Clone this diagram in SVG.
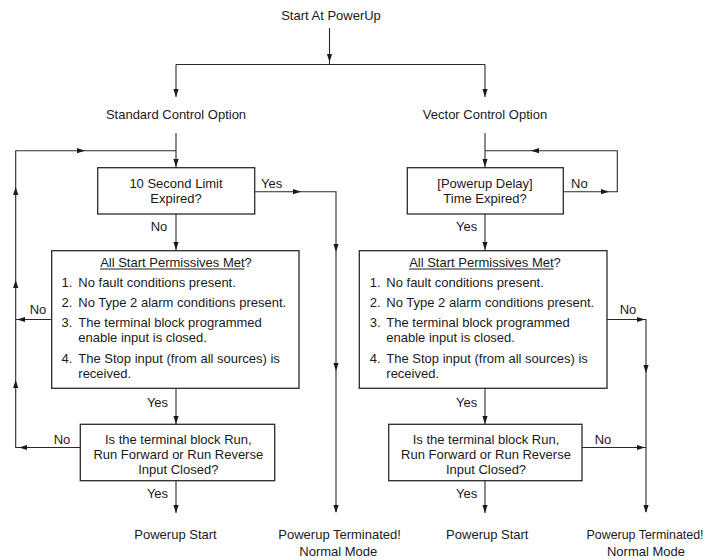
<svg xmlns="http://www.w3.org/2000/svg" xmlns:xlink="http://www.w3.org/1999/xlink" width="708" height="560" viewBox="0 0 708 560">
  <style>
    text { font-family: "Liberation Sans", Arial, Helvetica, sans-serif; font-size: 13px; fill: #1a1a1a; }
    .c { text-anchor: middle; }
    .box { fill: #ffffff; stroke: #2a2a2a; stroke-width: 1.3; }
    .wire { fill: none; stroke: #2a2a2a; stroke-width: 1.1; }
    .ul { stroke: #1a1a1a; stroke-width: 1; }
  </style>
  <defs>
    <!-- small filled arrowhead, tip at origin, pointing along +x -->
    <path id="ah" d="M0,0 L-8,-2.6 L-8,2.6 Z" fill="#1a1a1a"/>
  </defs>
  <rect width="708" height="560" fill="#ffffff"/>

  <!-- connectors -->
  <g id="connectors">
    <path class="wire" d="M329.5,28 V64.5 M176,64.5 H485 M176,64.5 V97 M485,64.5 V97"/>
    <use href="#ah" transform="translate(329.5,62) rotate(90)"/>
    <use href="#ah" transform="translate(176,97) rotate(90)"/>
    <use href="#ah" transform="translate(485,97) rotate(90)"/>

    <!-- standard branch -->
    <path class="wire" d="M176,133 V167.5"/>
    <use href="#ah" transform="translate(176,167) rotate(90)"/>
    <path class="wire" d="M80.5,447.5 H15.7 V150.7 H176"/>
    <path class="wire" d="M51.5,319.5 H15.7"/>
    <use href="#ah" transform="translate(85,150.7)"/>
    <use href="#ah" transform="translate(15.7,187) rotate(-90)"/>
    <use href="#ah" transform="translate(15.7,280) rotate(-90)"/>
    <use href="#ah" transform="translate(15.7,380) rotate(-90)"/>
    <use href="#ah" transform="translate(17,319.5) rotate(180)"/>
    <use href="#ah" transform="translate(19,447.5) rotate(180)"/>

    <path class="wire" d="M254.7,191.7 H336 V512"/>
    <use href="#ah" transform="translate(301,191.7)"/>
    <use href="#ah" transform="translate(336,252) rotate(90)"/>
    <use href="#ah" transform="translate(336,371) rotate(90)"/>
    <use href="#ah" transform="translate(336,513) rotate(90)"/>

    <path class="wire" d="M176,214 V250.5 M176,388.5 V424.5 M176,480.5 V513"/>
    <use href="#ah" transform="translate(176,250) rotate(90)"/>
    <use href="#ah" transform="translate(176,424) rotate(90)"/>
    <use href="#ah" transform="translate(176,513) rotate(90)"/>

    <!-- vector branch -->
    <path class="wire" d="M485,133 V167.5"/>
    <use href="#ah" transform="translate(485,167) rotate(90)"/>
    <path class="wire" d="M563.3,191.7 H617.3 V150.7 H485"/>
    <use href="#ah" transform="translate(609,191.7)"/>
    <use href="#ah" transform="translate(531,150.7) rotate(180)"/>

    <path class="wire" d="M485,214 V250.5 M485,388.5 V424.5 M485,480.5 V513"/>
    <use href="#ah" transform="translate(485,250) rotate(90)"/>
    <use href="#ah" transform="translate(485,424) rotate(90)"/>
    <use href="#ah" transform="translate(485,513) rotate(90)"/>

    <path class="wire" d="M607,319.5 H646 V512 M582,447.5 H646"/>
    <use href="#ah" transform="translate(645,319.5)"/>
    <use href="#ah" transform="translate(645,447.5)"/>
    <use href="#ah" transform="translate(646,373) rotate(90)"/>
    <use href="#ah" transform="translate(646,513) rotate(90)"/>

    <!-- connector labels -->
    <text x="261" y="187.5">Yes</text>
    <text class="c" x="159" y="231">No</text>
    <text class="c" x="38" y="313.5">No</text>
    <text class="c" x="157.5" y="406.8">Yes</text>
    <text class="c" x="62" y="443.8">No</text>
    <text class="c" x="157.5" y="497.8">Yes</text>

    <text x="571" y="187.5">No</text>
    <text class="c" x="466.7" y="230.5">Yes</text>
    <text class="c" x="628" y="313.5">No</text>
    <text class="c" x="466.7" y="406.8">Yes</text>
    <text class="c" x="603" y="443.8">No</text>
    <text class="c" x="466.7" y="497.8">Yes</text>
  </g>

  <!-- nodes -->
  <g id="start">
    <text class="c" x="331" y="19.5">Start At PowerUp</text>
  </g>
  <g id="standard-option">
    <text class="c" x="176" y="118.5">Standard Control Option</text>
  </g>
  <g id="vector-option">
    <text class="c" x="485" y="118.5">Vector Control Option</text>
  </g>

  <g id="std-limit">
    <rect class="box" x="97.7" y="167.7" width="157" height="46.3"/>
    <text class="c" x="176" y="187.5">10 Second Limit</text>
    <text class="c" x="176" y="202.5">Expired?</text>
  </g>
  <g id="vec-delay">
    <rect class="box" x="407.3" y="167.7" width="156" height="46.3"/>
    <text class="c" x="485" y="187.5">[Powerup Delay]</text>
    <text class="c" x="485" y="202.5">Time Expired?</text>
  </g>

  <g id="std-permissives">
    <rect class="box" x="51.7" y="250.7" width="247.3" height="137.6"/>
    <text class="c" x="176" y="266.8">All Start Permissives Met?</text>
    <line class="ul" x1="100.1" y1="269" x2="244.6" y2="269"/>
    <text x="61.5" y="287">1.</text><text x="78.3" y="287">No fault conditions present.</text>
    <text x="61.5" y="307">2.</text><text x="78.3" y="307">No Type 2 alarm conditions present.</text>
    <text x="61.5" y="327.2">3.</text><text x="78.3" y="327.2">The terminal block programmed</text>
    <text x="78.3" y="342.2">enable input is closed.</text>
    <text x="61.5" y="362.8">4.</text><text x="78.3" y="362.8">The Stop input (from all sources) is</text>
    <text x="78.3" y="377.8">received.</text>
  </g>
  <g id="vec-permissives">
    <rect class="box" x="359.3" y="250.7" width="247.7" height="137.6"/>
    <text class="c" x="485" y="266.8">All Start Permissives Met?</text>
    <line class="ul" x1="409.1" y1="269" x2="553.6" y2="269"/>
    <text x="369.8" y="287">1.</text><text x="386.3" y="287">No fault conditions present.</text>
    <text x="369.8" y="307">2.</text><text x="386.3" y="307">No Type 2 alarm conditions present.</text>
    <text x="369.8" y="327.2">3.</text><text x="386.3" y="327.2">The terminal block programmed</text>
    <text x="386.3" y="342.2">enable input is closed.</text>
    <text x="369.8" y="362.8">4.</text><text x="386.3" y="362.8">The Stop input (from all sources) is</text>
    <text x="386.3" y="377.8">received.</text>
  </g>

  <g id="std-run">
    <rect class="box" x="80.3" y="424.3" width="194.4" height="56.4"/>
    <text class="c" x="178.3" y="443.8">Is the terminal block Run,</text>
    <text class="c" x="178.3" y="458.8">Run Forward or Run Reverse</text>
    <text class="c" x="178.3" y="473.8">Input Closed?</text>
  </g>
  <g id="vec-run">
    <rect class="box" x="388.7" y="424.3" width="193.3" height="56.4"/>
    <text class="c" x="486" y="443.8">Is the terminal block Run,</text>
    <text class="c" x="486" y="458.8">Run Forward or Run Reverse</text>
    <text class="c" x="486" y="473.8">Input Closed?</text>
  </g>

  <g id="std-powerup-start">
    <text class="c" x="175.5" y="538.8">Powerup Start</text>
  </g>
  <g id="std-terminated">
    <text x="278.3" y="538.8">Powerup Terminated!</text>
    <text class="c" x="338.3" y="556">Normal Mode</text>
  </g>
  <g id="vec-powerup-start">
    <text class="c" x="487.3" y="538.8">Powerup Start</text>
  </g>
  <g id="vec-terminated">
    <text x="586.5" y="538.8" textLength="117" lengthAdjust="spacingAndGlyphs">Powerup Terminated!</text>
    <text class="c" x="646" y="556">Normal Mode</text>
  </g>
</svg>
